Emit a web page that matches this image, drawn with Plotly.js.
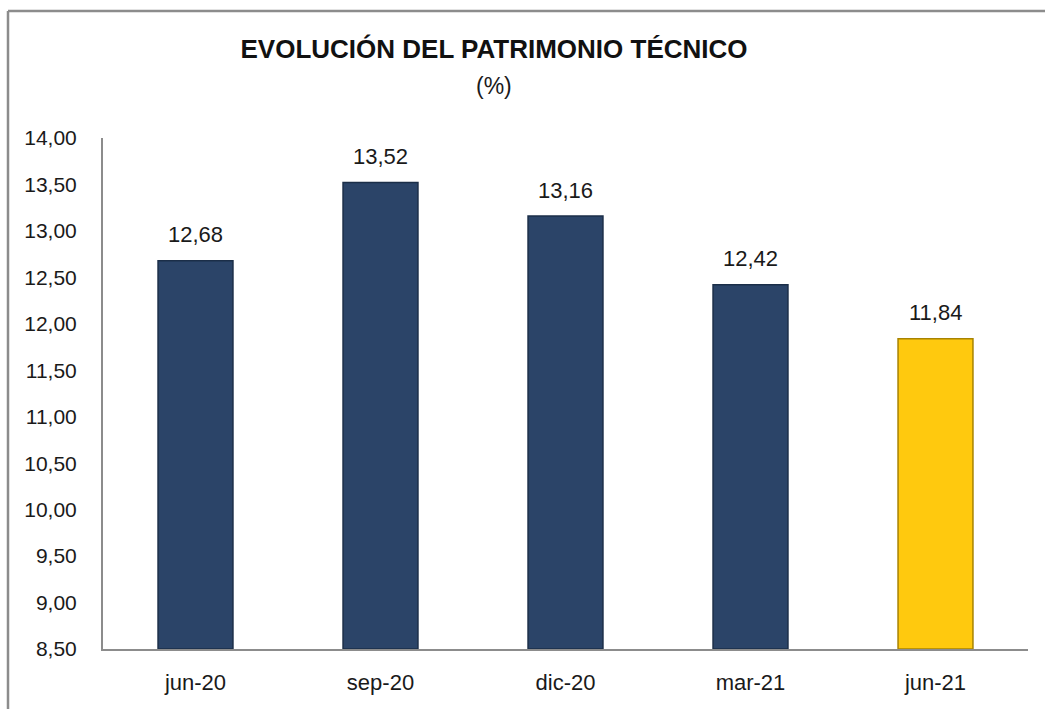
<!DOCTYPE html>
<html>
<head>
<meta charset="utf-8">
<script src="https://cdn.plot.ly/plotly-3.0.1.min.js"></script>
<style>
html,body{margin:0;padding:0;background:#fff;}
#chart{width:1045px;height:709px;}
</style>
</head>
<body>
<div id="chart"></div>
<script>
const categories = ["jun-20", "sep-20", "dic-20", "mar-21", "jun-21"];
const values = [12.68, 13.52, 13.16, 12.42, 11.84];
const barColors = ["#2B4468", "#2B4468", "#2B4468", "#2B4468", "#FFC90E"];
const barLines = ["#1B2E48", "#1B2E48", "#1B2E48", "#1B2E48", "#A88300"];
const yTicks = [8.5, 9, 9.5, 10, 10.5, 11, 11.5, 12, 12.5, 13, 13.5, 14];
const yBase = 8.5;

const fmt = v => v.toFixed(2).replace('.', ',');
const FONT = 'Liberation Sans, Arial, sans-serif';

const trace = {
  type: 'bar',
  x: categories,
  y: values.map(v => v - yBase),
  base: yBase,
  marker: {color: barColors, line: {color: barLines, width: 1.5}},
  width: 0.405,
  hoverinfo: 'skip'
};

const annotations = categories.map((c, i) => ({
  x: c, y: values[i], xref: 'x', yref: 'y',
  text: fmt(values[i]), showarrow: false,
  yanchor: 'middle', yshift: 26,
  font: {family: FONT, size: 22, color: '#1a1a1a'}
}));
annotations.push({
  xref: 'paper', yref: 'paper', x: (494 - 103) / 925, y: (649 - 86) / 511,
  text: '(%)', showarrow: false, xanchor: 'center', yanchor: 'middle',
  font: {family: FONT, size: 23, color: '#1a1a1a'}
});

const layout = {
  width: 1045, height: 709,
  margin: {l: 103, r: 17, t: 138, b: 60},
  paper_bgcolor: '#ffffff', plot_bgcolor: '#ffffff',
  showlegend: false,
  bargap: 0.595,
  title: {
    text: '<b>EVOLUCIÓN DEL PATRIMONIO TÉCNICO</b>',
    x: 494 / 1045, xanchor: 'center', y: 1 - 49 / 709, yanchor: 'middle',
    font: {family: FONT, size: 26, color: '#111111'}
  },
  xaxis: {
    type: 'category',
    showline: true, linecolor: '#8c8c8c', linewidth: 2,
    ticks: '', showgrid: false, zeroline: false,
    ticklabelstandoff: 13,
    tickfont: {family: FONT, size: 22, color: '#1a1a1a'},
    fixedrange: true
  },
  yaxis: {
    range: [8.5, 14],
    tickvals: yTicks,
    ticktext: yTicks.map(fmt),
    showline: true, linecolor: '#8c8c8c', linewidth: 2,
    ticks: '', showgrid: false, zeroline: false,
    ticklabelstandoff: 20,
    tickfont: {family: FONT, size: 21, color: '#1a1a1a'},
    fixedrange: true
  },
  annotations: annotations,
  shapes: [
    {type: 'line', xref: 'paper', yref: 'paper',
     x0: (8 - 103) / 925, x1: (1045 - 103) / 925,
     y0: (649 - 11) / 511, y1: (649 - 11) / 511,
     line: {color: '#8c8c8c', width: 2.5}},
    {type: 'line', xref: 'paper', yref: 'paper',
     x0: (8 - 103) / 925, x1: (8 - 103) / 925,
     y0: (649 - 11) / 511, y1: (649 - 709) / 511,
     line: {color: '#8c8c8c', width: 2.5}}
  ]
};

Plotly.newPlot('chart', [trace], layout, {displayModeBar: false, staticPlot: true});
</script>
</body>
</html>
